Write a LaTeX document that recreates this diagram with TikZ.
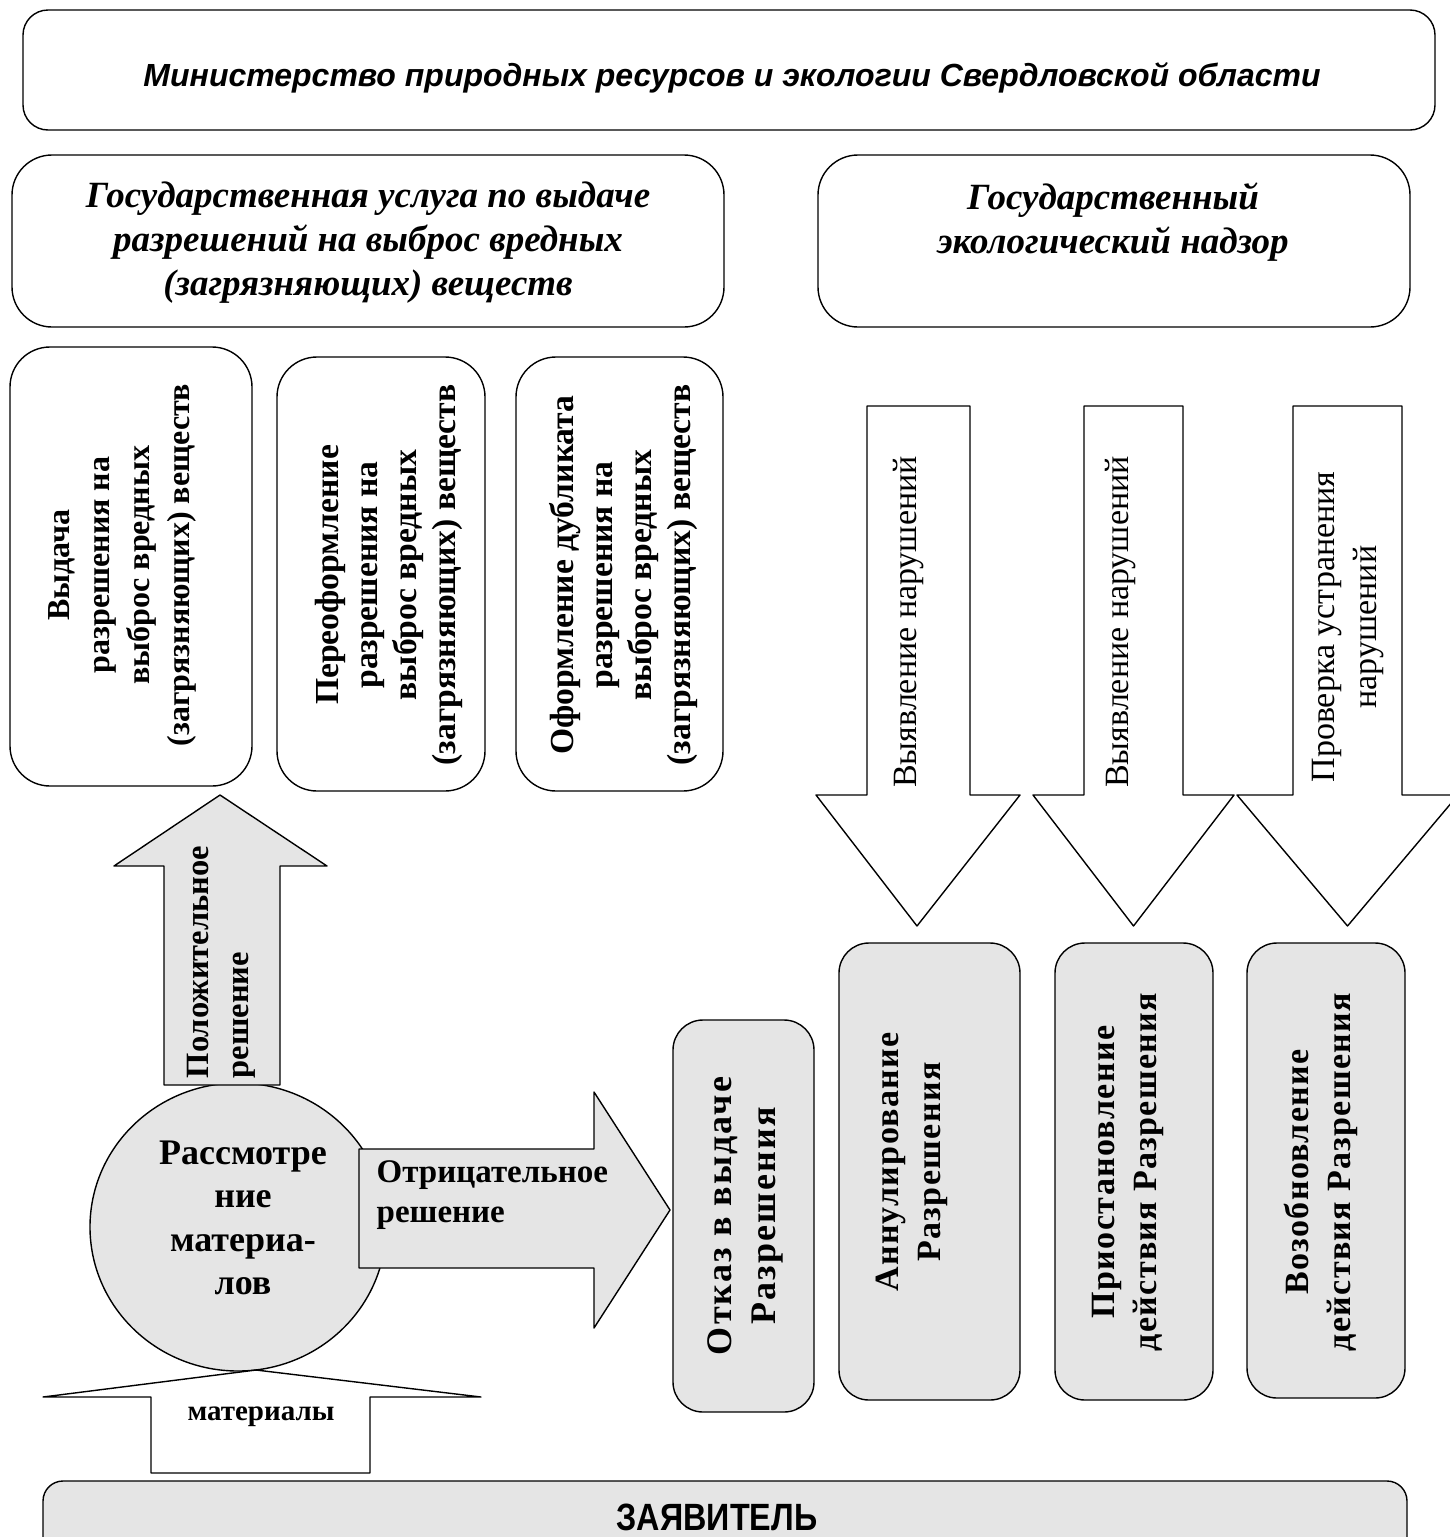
\documentclass[tikz,border=0pt]{standalone}
\usepackage{fontspec}
\usetikzlibrary{shapes.geometric}
\setmainfont{Liberation Serif}
\newfontfamily\sansf{Liberation Sans}
\newfontfamily\narrowsans[FakeStretch=0.85]{Liberation Sans}
\newfontfamily\lsserif[LetterSpace=4]{Liberation Serif}
\newfontfamily\lsserifw[LetterSpace=6]{Liberation Serif}
\definecolor{fillg}{gray}{0.9}
\begin{document}
\begin{tikzpicture}[x=1pt,y=-1pt,line width=1.4pt,line join=round,
  rbox/.style={draw,rounded corners=40pt,inner sep=0pt},
  gbox/.style={rbox,fill=fillg,rounded corners=30pt},
  blockarrow/.style={draw,fill=white},
  garrow/.style={draw,fill=fillg},
  boxtext/.style={rotate=90,align=center,inner sep=0pt,font=\bfseries\fontsize{33.6}{39}\selectfont},
  lowtext/.style={rotate=90,align=center,inner sep=0pt,font=\lsserif\bfseries\fontsize{34}{42}\selectfont},
  arrtext/.style={rotate=90,align=center,inner sep=0pt,font=\fontsize{34}{42}\selectfont},
  hdtext/.style={align=center,inner sep=0pt,font=\bfseries\itshape\fontsize{37}{44}\selectfont}]
\useasboundingbox (0,0) rectangle (1449,1537);

% title
\node[rbox,rounded corners=25pt,minimum width=1412pt,minimum height=120pt] (title) at (729,70) {};
\node[inner sep=0pt,font=\sansf\bfseries\itshape\fontsize{32}{38}\selectfont] (titletext) at (732,78)
  {Министерство природных ресурсов и экологии Свердловской области};

% headers
\node[rbox,minimum width=712pt,minimum height=172pt] (hleft) at (368,241) {};
\node[hdtext] (hlefttext) at (368,243) {Государственная услуга по выдаче\\разрешений на выброс вредных\\(загрязняющих) веществ};
\node[rbox,minimum width=592pt,minimum height=172pt] (hright) at (1114,241) {};
\node[hdtext] (hrighttext) at (1113,222) {Государственный\\экологический надзор};

% upper vertical boxes
\node[rbox,minimum width=242pt,minimum height=439pt] (b1) at (131,566.5) {};
\node[boxtext,font=\bfseries\fontsize{32}{40}\selectfont] (b1t) at (122,565) {Выдача\\разрешения на\\выброс вредных\\(загрязняющих) веществ};
\node[rbox,minimum width=208pt,minimum height=434pt] (b2) at (381,574) {};
\node[boxtext] (b2t) at (389,575) {Переоформление\\разрешения на\\выброс вредных\\(загрязняющих) веществ};
\node[rbox,minimum width=207pt,minimum height=434pt] (b3) at (619.5,574) {};
\node[boxtext] (b3t) at (624,575) {Оформление дубликата\\разрешения на\\выброс вредных\\(загрязняющих) веществ};

% down arrows
\draw[blockarrow] (867,406) -- (970,406) -- (970,795) -- (1020,795) -- (917,926) -- (816,795) -- (867,795) -- cycle;
\node[arrtext] (a1t) at (909,622) {Выявление нарушений};
\draw[blockarrow] (1084,406) -- (1183,406) -- (1183,795) -- (1234,795) -- (1133.5,926) -- (1033,795) -- (1084,795) -- cycle;
\node[arrtext] (a2t) at (1121,622) {Выявление нарушений};
\draw[blockarrow] (1293,406) -- (1402,406) -- (1402,795) -- (1458,795) -- (1347.5,926) -- (1237,795) -- (1293,795) -- cycle;
\node[arrtext] (a3t) at (1348,627) {Проверка устранения\\нарушений};

% lower boxes
\node[gbox,minimum width=141pt,minimum height=392pt] (otk) at (743.5,1216) {};
\node[lowtext,font=\lsserifw\bfseries\fontsize{36}{44}\selectfont] (otkt) at (745,1216) {Отказ в выдаче\\Разрешения};
\node[gbox,minimum width=181pt,minimum height=457pt] (ann) at (929.5,1171.5) {};
\node[lowtext] (annt) at (912,1162) {Аннулирование\\Разрешения};
\node[gbox,minimum width=158pt,minimum height=457pt] (pri) at (1134,1171.5) {};
\node[lowtext] (prit) at (1128,1172) {Приостановление\\действия Разрешения};
\node[gbox,minimum width=158pt,minimum height=455pt] (voz) at (1326,1170.5) {};
\node[lowtext] (vozt) at (1321,1172) {Возобновление\\действия Разрешения};

% circle and its arrows
\node[draw,fill=fillg,ellipse,minimum width=296pt,minimum height=288pt,inner sep=0pt] (circ) at (238,1227) {};
\draw[garrow] (164,1085) -- (164,866) -- (114,866) -- (220,795) -- (327,866) -- (280,866) -- (280,1085) -- cycle;
\node[rotate=90,align=left,inner sep=0pt,font=\bfseries\fontsize{32.5}{40}\selectfont] (post) at (221,962) {Положительное\\решение};
\draw[garrow] (359,1149) -- (594,1149) -- (594,1092) -- (670,1210) -- (594,1328) -- (594,1268) -- (359,1268) -- cycle;
\node[align=left,anchor=north west,inner sep=0pt,font=\bfseries\fontsize{33}{40}\selectfont] (negt) at (376,1160) {Отрицательное\\решение};
\node[align=center,inner sep=0pt,font=\bfseries\fontsize{36}{43.5}\selectfont] (circt) at (243,1218) {Рассмотре\\ние\\материа-\\лов};
\draw[blockarrow] (151,1473) -- (151,1397) -- (43,1397) -- (256,1370) -- (481,1397) -- (370,1397) -- (370,1473) -- cycle;
\node[inner sep=0pt,font=\bfseries\fontsize{29}{35}\selectfont] (matt) at (261,1417) {материалы};

% applicant
\draw[fill=fillg,rounded corners=20pt] (43,1560) -- (43,1481) -- (1407,1481) -- (1407,1560);
\node[inner sep=0pt,text depth=0pt,anchor=base,font=\narrowsans\bfseries\fontsize{38}{44}\selectfont] (zt) at (717,1530) {ЗАЯВИТЕЛЬ};
\end{tikzpicture}
\end{document}
